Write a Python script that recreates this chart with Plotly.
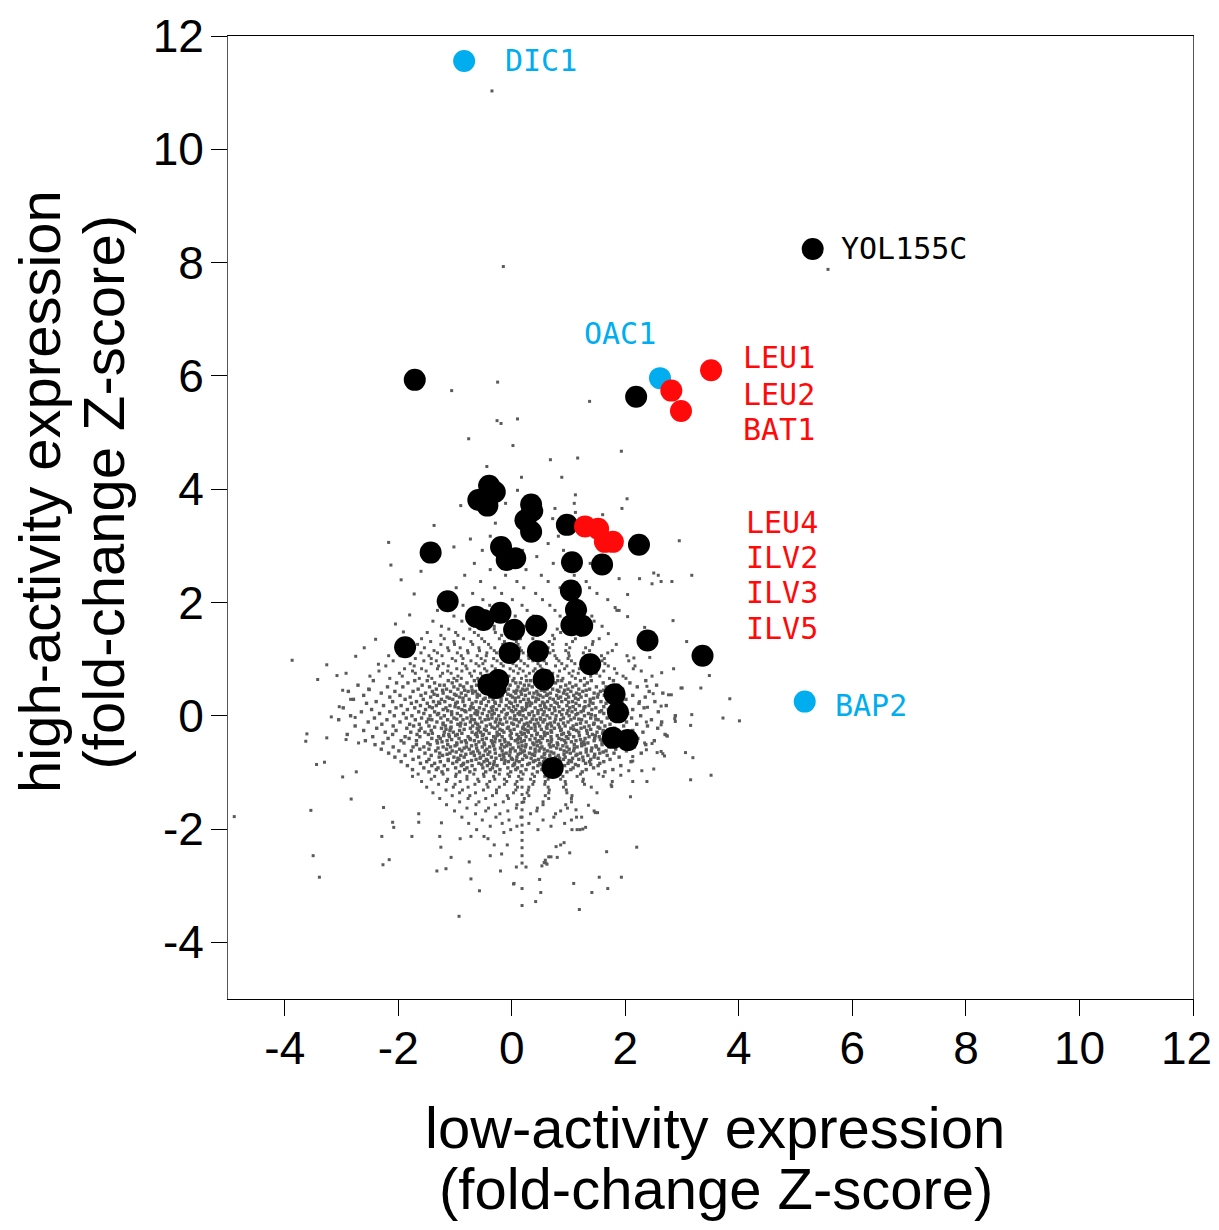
import plotly.graph_objects as go

# ---------------- highlighted genes ----------------
black_x = [5.30, -1.71, 2.19, -0.40, -0.30, -0.59, -0.43, 0.34, 0.36, 0.24, 0.34, 0.97, 2.24, -1.43,
           -0.19, -0.09, 0.06, 1.06, 1.59, -1.13, 1.04, 1.13, -0.63, -0.50, -0.20, 0.04, 0.43, 1.05,
           1.24, 2.39, -1.88, -0.04, 0.46, 3.36, 1.38, -0.41, -0.24, -0.29, 0.56, 1.81, 1.87, 1.78,
           2.04, 0.72]
black_y = [8.24, 5.93, 5.63, 4.06, 3.95, 3.81, 3.71, 3.73, 3.62, 3.45, 3.25, 3.37, 3.02, 2.88,
           2.98, 2.75, 2.78, 2.71, 2.67, 2.02, 2.21, 1.87, 1.75, 1.69, 1.82, 1.52, 1.59, 1.60,
           1.59, 1.33, 1.21, 1.11, 1.14, 1.06, 0.91, 0.55, 0.63, 0.49, 0.64, 0.38, 0.06, -0.39,
           -0.43, -0.92]

blue_names = ["DIC1", "OAC1", "BAP2"]
blue_x = [-0.84, 2.61, 5.16]
blue_y = [11.56, 5.96, 0.25]

red_x = [3.51, 2.81, 2.98, 1.29, 1.52, 1.64, 1.78]
red_y = [6.10, 5.74, 5.38, 3.34, 3.30, 3.07, 3.07]

# label texts
label_blue = [("DIC1", -0.16, 11.56), ("OAC1", 1.23, 6.74), ("BAP2", 5.65, 0.18)]
label_black = [("YOL155C", 5.76, 8.24)]
label_red = [("LEU1", 4.03, 6.32), ("LEU2", 4.03, 5.68), ("BAT1", 4.03, 5.05),
             ("LEU4", 4.09, 3.42), ("ILV2", 4.09, 2.79), ("ILV3", 4.09, 2.17), ("ILV5", 4.09, 1.54)]

# tick labels
tick_vals = [-4, -2, 0, 2, 4, 6, 8, 10, 12]
tick_text = ["-4", "-2", "0", "2", "4", "6", "8", "10", "12"]
# last x label gets a trailing no-break space so it stays inside the page edge
x_tick_text = tick_text[:-1] + [tick_text[-1] + "\u00a0"]

# ---------------- background genes (gray cloud) ----------------
# individually read sparse points
sparse_x = [-0.35, -0.15, 5.57, -1.06, -0.25, 1.37, -0.26, -0.19, 0.10, -0.76, 0.02, 0.68, 1.16, 1.93,
            -0.44, 0.17, 0.88, 0.10, 1.12, 1.10, 2.03, 1.94, -0.90, -0.11, 0.76, 0.72, 1.12, 1.60,
            -1.37, -0.29, -2.17, -2.13, 2.95, -1.02, -0.73,
            3.17, 2.84, 3.08, 2.85, 3.48, 3.84, 4.01, 3.72, 3.17, 3.15, 3.51, 3.15, 3.19, 3.06,
            2.50, 2.58, 2.47, 2.63, 2.82, 2.25, 1.89, 2.04, 1.82, 1.89, 2.04, 2.34, 1.70, 2.43,
            2.15, 2.14, 2.64, 2.38, 2.98, 3.33, 2.76, 2.81, 2.49, 2.25, 2.39, 2.63, 2.87, 2.88,
            2.63, 2.37, 2.73, 2.34, 2.47, 2.37, 2.56, 2.66, 2.13, 2.13, 2.50, 2.29, 2.06, 2.38,
            2.13, 1.75, 2.09, 2.69, 2.63, 2.74, 3.00,
            2.20, 1.67, 1.93, 1.54, 1.69, 1.41, 1.19, 1.09, 0.51, 0.42, 0.18, 0.04, 0.18, 0.49,
            0.92, 0.86, 1.02, 1.15, 1.20, 0.59, 0.57, 0.65, 0.69, -2.83, -2.98, -2.74, -2.29, -2.27,
            -2.16, -2.10, -2.08, -1.76, -1.64, -1.64, -1.32, -1.25, -1.27, -1.24, -1.16, -1.07,
            -0.93, -0.91, -0.75, -0.72, -0.57, -0.72, -0.49, -0.42, -0.38, -0.31, -0.20, -0.18,
            -0.14, -0.08, 0.03, 0.08, 0.25, 0.53, 0.60, 0.62, 0.80, 0.78, 1.47, 1.51, 1.25, 1.30,
            1.92, 1.76, 1.35, 1.13, 1.14,
            -4.89, -3.87, -3.26, -3.42, -3.08, -2.92, -2.98, -2.84, -3.04, -3.18, -3.61, -3.63,
            -3.26, -3.44, -3.30, -3.54, -3.50, -3.39, -2.76, -2.92, -2.70, -2.26, -1.80, -1.91,
            -2.17, -2.35, -2.51, -2.40, -2.05, -1.72, -1.95, -1.60, -2.60, -2.75,
            0.18, 0.18, 0.18, 0.18, 0.18, 0.18, 0.18, 0.18, 0.18, 0.18, 0.18, 0.18]
sparse_y = [11.03, 7.93, 7.88, 5.74, 5.89, 5.55, 5.21, 5.16, 5.24, 4.89, 4.77, 4.52, 4.55, 4.67,
            4.40, 4.21, 4.21, 3.98, 3.90, 3.75, 3.83, 3.66, 3.71, 3.75, 3.66, 3.48, 3.59, 3.55,
            3.36, 3.40, 3.06, 2.66, 3.09, 2.98, 3.12,
            2.48, 1.68, 1.31, 0.83, 0.71, 0.30, -0.09, -0.04, 0.02, -0.17, -1.05, -1.13, -0.74, -0.65,
            2.52, 2.48, 2.33, 2.37, 2.37, 2.42, 2.42, 2.14, 1.91, 1.86, 1.75, 1.56, 1.45, 1.03,
            1.02, 0.83, 0.76, 0.52, 0.49, 0.49, 0.37, 0.37, 0.39, 0.25, 0.15, 0.17, -0.05, -0.10,
            -0.16, -0.11, -0.35, -0.48, -0.49, -0.60, -0.65, -0.67, -0.72, -0.80, -0.94, -0.97, -0.97, -1.16,
            -1.16, -1.22, -1.43, -0.71, -0.63, -0.36, 0.49,
            -2.32, -2.40, -2.85, -2.85, -3.05, -3.12, -3.42, -2.96, -3.12, -3.28, -3.35, -2.96, -3.05, -2.89,
            -2.24, -2.28, -2.42, -2.01, -2.01, -2.55, -2.59, -2.49, -2.49, -1.47, -1.08, -0.99, -2.13, -2.63,
            -2.54, -1.88, -1.97, -2.13, -1.73, -1.88, -2.74, -2.32, -2.13, -1.89, -2.70, -2.50,
            -3.54, -2.17, -2.58, -2.88, -3.09, -2.13, -2.13, -2.17, -2.47, -2.28, -2.74, -2.44,
            -2.06, -2.28, -2.97, -2.67, -2.67, -2.65, -2.60, -2.62, -2.50, -2.31, -1.71, -1.71, -2.00, -1.97,
            -1.05, -1.25, -1.58, -1.66, -1.79,
            -1.78, 0.98, 0.90, 0.64, 0.71, 0.75, 0.45, 0.29, 0.16, -0.02, -0.32, -0.45,
            -0.39, -0.86, -0.82, -1.67, -2.47, -2.85, -0.03, -0.42, -0.48, -1.62, 1.78, 1.48,
            1.06, 0.91, 0.46, 1.35, 1.62, 2.15, 2.40, 2.55, 1.20, 1.05,
            -1.12, -1.26, -1.39, -1.53, -1.66, -1.79, -1.93, -2.06, -2.20, -2.33, -2.47, -2.60]

# upper moderate band: row y values and x positions read along each row
upper_row_y = [1.58, 1.67, 1.76, 1.86, 1.95, 2.05, 2.16, 2.26, 2.37, 2.48, 2.58, 2.69, 2.81, 2.92,
               3.04, 3.17]
upper_row_x = [
    [-1.24, -0.66, -0.31, 0.22, 0.57, 1.11, 1.59],
    [-1.39, -0.88, -0.40, 0.03, 0.52, 0.92, 1.45],
    [-1.02, -0.48, 0.06, 0.38, 0.85, 1.41],
    [-1.31, -0.74, -0.15, 0.27, 0.76, 1.30, 1.85],
    [-0.86, -0.39, 0.18, 0.67, 1.16],
    [-1.16, -0.51, 0.01, 0.54, 1.03, 1.69],
    [-0.69, -0.18, 0.42, 0.91, 1.50],
    [-0.98, -0.30, 0.21, 0.85, 1.37],
    [-0.55, 0.09, 0.64, 1.31],
    [-0.83, -0.11, 0.52, 1.10],
    [-0.38, 0.25, 0.95],
    [-0.66, 0.12, 0.73, 1.38],
    [-0.24, 0.44, 1.12],
    [-0.52, 0.19, 0.91],
    [-0.09, 0.64],
    [-0.38, 0.82],
]

# mid band above the core
mid_row_y = [0.66, 0.70, 0.75, 0.79, 0.83, 0.88, 0.92, 0.97, 1.01, 1.06, 1.11, 1.15, 1.20, 1.26,
             1.31, 1.36, 1.42, 1.47, 1.53]
mid_row_x = [
    [-2.15, -1.63, -1.41, -1.02, -0.89, -0.60, -0.38, -0.29, 0.04, 0.17, 0.49, 0.58, 0.90, 1.12, 1.28, 1.72, 2.01],
    [-2.50, -1.93, -1.47, -1.26, -0.95, -0.71, -0.52, -0.19, -0.05, 0.25, 0.43, 0.66, 0.81, 1.06, 1.39, 1.55, 1.96, 2.47],
    [-1.98, -1.70, -1.22, -1.07, -0.74, -0.55, -0.32, -0.13, 0.11, 0.31, 0.60, 0.72, 1.01, 1.17, 1.49, 1.85],
    [-2.34, -1.75, -1.51, -1.13, -0.88, -0.66, -0.44, -0.22, 0.03, 0.20, 0.38, 0.65, 0.84, 1.08, 1.31, 1.62, 2.28],
    [-1.89, -1.59, -1.31, -0.97, -0.79, -0.48, -0.29, -0.03, 0.14, 0.41, 0.53, 0.93, 1.19, 1.40, 1.81],
    [-2.22, -1.72, -1.29, -1.12, -0.81, -0.58, -0.35, -0.15, 0.08, 0.28, 0.50, 0.77, 0.97, 1.26, 1.70, 2.17],
    [-1.79, -1.42, -1.21, -0.87, -0.63, -0.51, -0.19, 0.02, 0.22, 0.46, 0.61, 0.88, 1.11, 1.36, 1.64],
    [-2.09, -1.55, -1.33, -0.99, -0.72, -0.47, -0.26, -0.07, 0.16, 0.37, 0.57, 0.83, 1.05, 1.33, 1.59, 2.06],
    [-1.70, -1.42, -1.05, -0.86, -0.54, -0.32, -0.11, 0.12, 0.30, 0.56, 0.79, 0.99, 1.25, 1.63],
    [-1.97, -1.46, -1.23, -0.89, -0.61, -0.45, -0.16, 0.05, 0.29, 0.44, 0.76, 1.01, 1.32, 1.58, 2.03],
    [-1.60, -1.31, -0.96, -0.77, -0.44, -0.27, 0.02, 0.20, 0.51, 0.67, 1.00, 1.26, 1.69],
    [-1.83, -1.37, -1.11, -0.78, -0.57, -0.31, -0.02, 0.17, 0.47, 0.73, 0.95, 1.37, 1.77],
    [-1.54, -1.13, -0.91, -0.58, -0.37, -0.06, 0.14, 0.45, 0.64, 1.02, 1.30],
    [-1.66, -1.25, -1.01, -0.69, -0.41, -0.16, 0.11, 0.38, 0.72, 0.96, 1.42, 1.84],
    [-1.43, -1.02, -0.72, -0.48, -0.13, 0.08, 0.43, 0.66, 1.07, 1.43],
    [-1.59, -1.19, -0.85, -0.53, -0.22, 0.15, 0.37, 0.75, 1.12, 1.54],
    [-1.25, -0.95, -0.59, -0.18, 0.04, 0.45, 0.72, 1.21],
    [-1.49, -0.99, -0.66, -0.29, 0.12, 0.38, 0.86, 1.27],
    [-1.11, -0.74, -0.31, -0.02, 0.48, 0.80, 1.33],
]

# dense core
core_row_y = [0.62, 0.58, 0.54, 0.51, 0.47, 0.43, 0.40, 0.36, 0.33, 0.29, 0.25, 0.22, 0.18, 0.14,
              0.11, 0.07, 0.04, 0.00, -0.04, -0.07, -0.11, -0.15, -0.18, -0.22, -0.26, -0.29,
              -0.33, -0.37, -0.40, -0.44, -0.48, -0.51, -0.55, -0.59, -0.62, -0.66, -0.70, -0.73,
              -0.77, -0.81, -0.84, -0.88, -0.92, -0.95, -0.99]
core_row_x = [
    [-2.44, -1.71, -1.49, -1.12, -0.97, -0.66, -0.58, -0.31, -0.12, 0.02, 0.26, 0.33, 0.58, 0.81, 0.88, 1.21, 1.40, 1.79, 2.36],
    [-2.03, -1.83, -1.36, -1.05, -0.79, -0.44, -0.37, -0.20, 0.07, 0.15, 0.41, 0.69, 0.77, 1.02, 1.33, 1.61, 2.08],
    [-2.71, -1.58, -1.27, -1.19, -0.91, -0.62, -0.51, -0.26, -0.03, 0.22, 0.30, 0.49, 0.64, 0.95, 1.13, 1.28, 1.87, 2.55],
    [-2.19, -1.92, -1.45, -1.02, -0.85, -0.71, -0.40, -0.15, 0.11, 0.36, 0.55, 0.86, 1.07, 1.49, 1.66, 2.21],
    [-2.52, -1.65, -1.33, -1.15, -0.95, -0.56, -0.48, -0.23, -0.06, 0.19, 0.27, 0.62, 0.72, 0.99, 1.18, 1.37, 1.95],
    [-2.88, -2.06, -1.74, -1.40, -1.08, -0.77, -0.64, -0.35, -0.11, 0.04, 0.16, 0.44, 0.58, 0.83, 1.04, 1.25, 1.56, 1.76, 2.42],
    [-2.30, -1.52, -1.21, -0.89, -0.69, -0.46, -0.28, 0.07, 0.31, 0.39, 0.68, 0.91, 1.14, 1.45, 1.90, 2.66],
    [-2.61, -1.97, -1.60, -1.31, -0.98, -0.81, -0.57, -0.17, -0.02, 0.24, 0.50, 0.61, 0.79, 1.09, 1.31, 1.63, 2.13],
    [-2.15, -1.79, -1.43, -1.14, -0.92, -0.61, -0.39, -0.25, 0.01, 0.12, 0.37, 0.55, 0.86, 1.00, 1.22, 1.51, 1.82, 2.35],
    [-2.79, -1.88, -1.56, -1.24, -1.04, -0.75, -0.50, -0.33, -0.09, 0.21, 0.29, 0.47, 0.73, 0.95, 1.17, 1.38, 1.71, 2.01],
    [-2.39, -2.10, -1.68, -1.38, -1.18, -0.86, -0.63, -0.41, -0.19, 0.06, 0.15, 0.42, 0.63, 0.88, 1.07, 1.29, 1.57, 1.94, 2.52],
    [-2.56, -1.77, -1.49, -1.27, -0.99, -0.70, -0.54, -0.29, -0.01, 0.26, 0.35, 0.57, 0.80, 1.13, 1.43, 1.66, 2.24],
    [-2.26, -1.95, -1.61, -1.33, -1.09, -0.83, -0.45, -0.22, -0.10, 0.10, 0.32, 0.50, 0.69, 0.97, 1.19, 1.36, 1.81, 2.72],
    [-2.97, -2.04, -1.71, -1.40, -1.16, -0.94, -0.68, -0.57, -0.36, -0.05, 0.18, 0.41, 0.60, 0.75, 1.02, 1.27, 1.48, 1.98, 2.33],
    [-2.47, -1.84, -1.52, -1.21, -0.88, -0.74, -0.49, -0.27, -0.14, 0.07, 0.24, 0.52, 0.66, 0.90, 1.12, 1.41, 1.70, 2.13],
    [-2.65, -2.15, -1.64, -1.36, -1.06, -0.81, -0.60, -0.40, -0.18, 0.02, 0.14, 0.36, 0.57, 0.84, 1.06, 1.22, 1.55, 1.89, 2.58],
    [-2.33, -1.91, -1.55, -1.29, -0.96, -0.65, -0.52, -0.31, -0.08, 0.11, 0.30, 0.46, 0.71, 0.97, 1.16, 1.35, 1.62, 2.04],
    [-2.84, -2.07, -1.76, -1.44, -1.19, -0.90, -0.72, -0.43, -0.23, 0.05, 0.20, 0.39, 0.62, 0.78, 1.01, 1.28, 1.47, 1.79, 2.27, 2.88],
    [-2.42, -1.86, -1.59, -1.25, -1.02, -0.79, -0.56, -0.35, -0.12, -0.03, 0.25, 0.50, 0.67, 0.91, 1.10, 1.39, 1.68, 2.11],
    [-3.05, -2.20, -1.70, -1.41, -1.13, -0.86, -0.66, -0.47, -0.20, 0.08, 0.17, 0.43, 0.58, 0.86, 1.04, 1.23, 1.52, 1.86, 2.46],
    [-2.53, -1.97, -1.50, -1.32, -1.07, -0.73, -0.53, -0.29, -0.09, 0.13, 0.33, 0.55, 0.75, 0.99, 1.31, 1.58, 2.02, 2.64],
    [-2.29, -1.80, -1.63, -1.21, -0.95, -0.82, -0.60, -0.38, -0.16, 0.03, 0.22, 0.40, 0.63, 0.82, 1.14, 1.44, 1.73, 2.20],
    [-2.76, -2.09, -1.73, -1.46, -1.17, -0.91, -0.69, -0.45, -0.25, 0.10, 0.29, 0.49, 0.70, 0.94, 1.08, 1.36, 1.64, 1.97, 2.39],
    [-2.38, -1.85, -1.60, -1.24, -1.08, -0.73, -0.61, -0.30, -0.08, 0.19, 0.34, 0.62, 0.75, 1.04, 1.22, 1.55, 1.81, 2.57],
    [-2.61, -2.04, -1.63, -1.42, -1.09, -0.92, -0.59, -0.45, -0.17, -0.03, 0.28, 0.41, 0.69, 0.86, 1.14, 1.32, 1.61, 2.13],
    [-2.23, -1.78, -1.53, -1.19, -1.03, -0.70, -0.55, -0.26, -0.14, 0.16, 0.29, 0.57, 0.70, 1.00, 1.18, 1.50, 1.74, 2.31],
    [-2.90, -2.10, -1.67, -1.47, -1.11, -0.96, -0.64, -0.50, -0.22, 0.09, 0.18, 0.44, 0.58, 0.88, 1.02, 1.42, 1.66, 2.05, 2.70],
    [-2.45, -1.88, -1.62, -1.29, -1.10, -0.77, -0.61, -0.32, -0.17, 0.12, 0.25, 0.51, 0.69, 0.96, 1.09, 1.36, 1.54, 1.93],
    [-2.18, -1.81, -1.41, -1.26, -0.93, -0.74, -0.45, -0.29, -0.01, 0.15, 0.41, 0.54, 0.83, 0.99, 1.29, 1.46, 1.84, 2.22],
    [-2.58, -1.95, -1.68, -1.32, -1.14, -0.82, -0.66, -0.36, -0.21, 0.06, 0.22, 0.48, 0.63, 0.93, 1.13, 1.45, 1.69, 2.09, 2.51],
    [-2.27, -1.90, -1.48, -1.31, -0.97, -0.80, -0.49, -0.34, -0.06, 0.11, 0.37, 0.51, 0.80, 0.95, 1.23, 1.34, 1.65, 2.00],
    [-2.41, -1.68, -1.44, -1.13, -0.97, -0.63, -0.48, -0.18, -0.03, 0.25, 0.39, 0.66, 0.81, 1.10, 1.28, 1.59, 1.85, 2.36],
    [-2.09, -1.74, -1.55, -1.21, -1.08, -0.80, -0.52, -0.39, -0.13, 0.12, 0.24, 0.53, 0.68, 0.97, 1.15, 1.49, 1.71, 2.16],
    [-2.30, -1.62, -1.46, -1.15, -0.92, -0.75, -0.44, -0.30, -0.02, 0.16, 0.41, 0.57, 0.86, 1.01, 1.31, 1.53, 1.83],
    [-1.99, -1.77, -1.34, -1.05, -0.88, -0.60, -0.47, -0.17, 0.06, 0.22, 0.48, 0.63, 0.92, 1.09, 1.40, 1.66, 2.02],
    [-2.17, -1.53, -1.27, -1.09, -0.72, -0.57, -0.29, -0.10, 0.15, 0.31, 0.58, 0.74, 1.03, 1.21, 1.55, 1.80, 2.28],
    [-1.88, -1.42, -1.22, -0.90, -0.66, -0.50, -0.21, -0.04, 0.23, 0.40, 0.67, 0.82, 1.13, 1.34, 1.68],
    [-2.06, -1.64, -1.28, -1.02, -0.84, -0.55, -0.36, -0.14, 0.09, 0.26, 0.53, 0.77, 0.94, 1.25, 1.45, 1.89],
    [-1.74, -1.46, -1.12, -0.93, -0.63, -0.45, -0.18, 0.01, 0.19, 0.47, 0.64, 0.91, 1.18, 1.39, 1.73],
    [-1.95, -1.50, -1.26, -0.97, -0.78, -0.49, -0.31, -0.06, 0.13, 0.38, 0.56, 0.85, 1.05, 1.37, 1.62, 2.10],
    [-1.61, -1.36, -1.04, -0.85, -0.58, -0.39, -0.13, 0.05, 0.31, 0.49, 0.79, 0.99, 1.30, 1.55],
    [-1.84, -1.41, -1.19, -0.89, -0.70, -0.43, -0.26, 0.02, 0.18, 0.46, 0.63, 0.93, 1.17, 1.52, 1.92],
    [-1.55, -1.30, -0.99, -0.79, -0.51, -0.34, -0.07, 0.10, 0.38, 0.55, 0.86, 1.08, 1.44],
    [-1.75, -1.33, -1.13, -0.83, -0.65, -0.38, -0.21, 0.07, 0.25, 0.53, 0.72, 1.04, 1.31, 1.78],
    [-1.46, -1.23, -0.92, -0.74, -0.46, -0.29, -0.02, 0.16, 0.45, 0.64, 0.97, 1.24, 1.64],
]

# darkest centre of the core, read between the core rows
centre_row_y = [0.45, 0.38, 0.31, 0.24, 0.16, 0.09, 0.02, -0.06, -0.13, -0.20, -0.24, -0.31, -0.35,
                -0.42, -0.46, -0.53, -0.57, -0.64, -0.68, -0.75, -0.79, -0.86]
centre_row_x = [
    [-1.22, -0.83, -0.70, -0.41, -0.18, 0.09, 0.23, 0.52, 0.80, 0.93, 1.31, 1.62],
    [-1.37, -1.01, -0.61, -0.36, -0.07, 0.17, 0.46, 0.63, 0.97, 1.19, 1.52],
    [-1.10, -0.86, -0.47, -0.19, 0.06, 0.43, 0.67, 0.82, 1.12, 1.44, 1.69],
    [-1.29, -0.96, -0.54, -0.30, -0.04, 0.31, 0.54, 0.76, 1.00, 1.38],
    [-1.45, -1.00, -0.72, -0.33, 0.03, 0.26, 0.58, 0.83, 1.08, 1.29, 1.62],
    [-1.13, -0.83, -0.63, -0.34, -0.01, 0.19, 0.46, 0.76, 0.99, 1.26, 1.58],
    [-1.31, -1.06, -0.61, -0.35, -0.10, 0.14, 0.31, 0.55, 0.88, 1.13, 1.40],
    [-1.47, -0.97, -0.71, -0.41, -0.27, 0.04, 0.36, 0.51, 0.77, 1.18, 1.48, 1.77],
    [-1.21, -0.90, -0.64, -0.22, 0.00, 0.27, 0.46, 0.68, 0.91, 1.21, 1.45],
    [-1.36, -1.07, -0.57, -0.35, -0.06, 0.20, 0.41, 0.61, 0.84, 1.28, 1.52],
    [-1.16, -0.84, -0.48, -0.21, 0.04, 0.23, 0.52, 0.87, 1.09, 1.39],
    [-1.40, -0.88, -0.62, -0.40, -0.01, 0.22, 0.45, 0.63, 0.91, 1.33, 1.60],
    [-1.20, -0.99, -0.52, -0.26, -0.03, 0.35, 0.58, 0.80, 1.19, 1.47],
    [-1.06, -0.73, -0.52, -0.13, 0.10, 0.32, 0.70, 0.88, 1.21, 1.56],
    [-1.23, -0.89, -0.58, -0.30, -0.12, 0.17, 0.44, 0.69, 1.05, 1.27, 1.59],
    [-1.00, -0.71, -0.32, -0.09, 0.18, 0.45, 0.73, 0.90, 1.23, 1.48],
    [-1.30, -0.84, -0.62, -0.20, 0.02, 0.33, 0.50, 0.79, 1.10, 1.41],
    [-0.98, -0.68, -0.39, -0.03, 0.19, 0.41, 0.69, 0.97, 1.31, 1.61],
    [-1.14, -0.81, -0.42, -0.15, 0.11, 0.36, 0.57, 0.92, 1.15, 1.46],
    [-0.95, -0.56, -0.28, -0.01, 0.34, 0.58, 0.84, 1.07, 1.52],
    [-1.12, -0.71, -0.43, -0.12, 0.08, 0.41, 0.69, 1.01, 1.26],
    [-0.86, -0.53, -0.32, 0.04, 0.28, 0.52, 0.83, 1.12, 1.39],
]

# lower band below the core
low_row_y = [-1.03, -1.07, -1.12, -1.16, -1.21, -1.26, -1.31, -1.36, -1.41, -1.46, -1.52, -1.57,
             -1.63, -1.68, -1.73, -1.79, -1.84, -1.90, -1.95, -2.01]
low_row_x = [
    [-1.65, -1.21, -0.98, -0.67, -0.50, -0.22, -0.07, 0.20, 0.36, 0.65, 0.85, 1.21, 1.53],
    [-1.75, -1.36, -0.99, -0.79, -0.49, -0.32, -0.04, 0.12, 0.40, 0.58, 0.90, 1.15, 1.61],
    [-1.42, -1.13, -0.79, -0.60, -0.30, -0.13, 0.16, 0.33, 0.64, 0.86, 1.26],
    [-1.59, -1.15, -0.91, -0.58, -0.39, -0.09, 0.09, 0.39, 0.59, 0.94, 1.25, 1.77],
    [-1.29, -1.00, -0.65, -0.44, -0.13, 0.06, 0.37, 0.58, 0.95, 1.28],
    [-1.50, -1.03, -0.77, -0.42, -0.22, 0.10, 0.30, 0.64, 0.91, 1.40],
    [-1.16, -0.87, -0.50, -0.27, 0.07, 0.29, 0.66, 0.96],
    [-1.39, -0.92, -0.64, -0.27, 0.03, 0.27, 0.65, 0.97, 1.50],
    [-1.05, -0.74, -0.34, -0.08, 0.30, 0.59, 1.06],
    [-1.27, -0.77, -0.46, -0.06, 0.22, 0.65, 1.05],
    [-0.92, -0.58, -0.15, 0.21, 0.55, 1.05],
    [-1.15, -0.63, -0.29, 0.09, 0.55, 0.95],
    [-0.79, -0.41, 0.08, 0.45, 0.98],
    [-1.01, -0.46, -0.07, 0.44, 0.86, 1.45],
    [-0.64, -0.21, 0.33, 0.77],
    [-0.88, -0.28, 0.16, 0.74, 1.23],
    [-0.52, -0.05, 0.55, 1.05],
    [-0.76, -0.17, 0.30, 0.93],
    [-0.38, 0.09, 0.69],
    [-0.62, -0.02, 0.46, 1.06],
]


def flatten(rows_y, rows_x):
    xs_out, ys_out = [], []
    for yv, xs in zip(rows_y, rows_x):
        xs_out.extend(xs)
        ys_out.extend([yv] * len(xs))
    return xs_out, ys_out


# outer gray points (sparse, upper, mid, lower bands)
outer_x = list(sparse_x)
outer_y = list(sparse_y)
for ry, rx in [(upper_row_y, upper_row_x), (mid_row_y, mid_row_x), (low_row_y, low_row_x)]:
    fx, fy = flatten(ry, rx)
    outer_x += fx
    outer_y += fy

# dense core gray points
dense_x, dense_y = flatten(core_row_y, core_row_x)
cx, cy = flatten(centre_row_y, centre_row_x)
dense_x += cx
dense_y += cy

BLUE = "#00AEEF"
RED = "#FF0A0A"
GRAY = "#5a5a5a"

fig = go.Figure()
fig.add_trace(go.Scatter(x=outer_x, y=outer_y, mode="markers",
                         marker=dict(size=3, color=GRAY, symbol="square", line=dict(width=0)),
                         hoverinfo="skip", showlegend=False))
fig.add_trace(go.Scatter(x=dense_x, y=dense_y, mode="markers",
                         marker=dict(size=3.4, color=GRAY, symbol="square", line=dict(width=0)),
                         hoverinfo="skip", showlegend=False))
fig.add_trace(go.Scatter(x=black_x, y=black_y, mode="markers",
                         marker=dict(size=22, color="#000000", line=dict(width=0)), showlegend=False))
fig.add_trace(go.Scatter(x=blue_x, y=blue_y, mode="markers", text=blue_names,
                         marker=dict(size=22, color=BLUE, line=dict(width=0)), showlegend=False))
fig.add_trace(go.Scatter(x=red_x, y=red_y, mode="markers",
                         marker=dict(size=22, color=RED, line=dict(width=0)), showlegend=False))

MONO = "DejaVu Sans Mono, monospace"
annotations = []
for group, col in [(label_blue, BLUE), (label_black, "#000000"), (label_red, RED)]:
    for txt, lx, ly in group:
        annotations.append(dict(x=lx, y=ly, xref="x", yref="y", text=txt, showarrow=False,
                                xanchor="left", yanchor="middle",
                                font=dict(family=MONO, size=30, color=col)))

SANS = "Liberation Sans, Arial, sans-serif"
title_font = dict(family=SANS, size=58, color="#000000")
annotations += [
    dict(x=0.5047, y=-0.1330, xref="paper", yref="paper", text="low-activity expression",
         showarrow=False, xanchor="center", yanchor="middle", font=title_font),
    dict(x=0.5057, y=-0.1970, xref="paper", yref="paper", text="(fold-change Z-score)",
         showarrow=False, xanchor="center", yanchor="middle", font=title_font),
    dict(x=-0.1948, y=0.5265, xref="paper", yref="paper", text="high-activity expression",
         showarrow=False, xanchor="center", yanchor="middle", textangle=-90, font=title_font),
    dict(x=-0.1280, y=0.5265, xref="paper", yref="paper", text="(fold-change Z-score)",
         showarrow=False, xanchor="center", yanchor="middle", textangle=-90, font=title_font),
]

axis_common = dict(tickmode="array", tickvals=tick_vals,
                   ticks="outside", ticklen=16, tickwidth=1, tickcolor="#000000",
                   showline=True, linewidth=1, mirror=True, showgrid=False, zeroline=False,
                   automargin=False, ticklabeloverflow="allow",
                   tickfont=dict(family=SANS, size=46, color="#000000"))

# the page body adds an 8 px offset; the figure is sized so the page does not overflow the window
fig.update_layout(
    width=1203, height=1214,
    margin=dict(l=220, r=18, t=28, b=223, pad=0, autoexpand=False),
    paper_bgcolor="white", plot_bgcolor="white",
    xaxis=dict(range=[-5, 12], ticktext=x_tick_text, linecolor="#000000",
               ticklabelstandoff=-7, **axis_common),
    yaxis=dict(range=[-5, 12], ticktext=tick_text, linecolor="#555555",
               ticklabelstandoff=-2, **axis_common),
    annotations=annotations,
    showlegend=False,
)

fig.write_html("out.html")
